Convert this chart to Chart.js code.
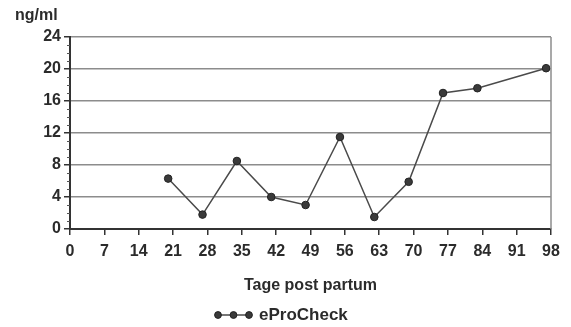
<!DOCTYPE html>
<html>
<head>
<meta charset="utf-8">
<script src="https://cdn.jsdelivr.net/npm/chart.js@4/dist/chart.umd.min.js"></script>
<style>
  html, body { margin: 0; padding: 0; background: #fff; }
  #wrap { width: 571px; height: 327px; position: relative; }
</style>
</head>
<body>
<div id="wrap"><canvas id="c" width="571" height="327"></canvas></div>
<script>
// Days after birth and measured concentration
const days = [20, 27, 34, 41, 48, 55, 62, 69, 76, 83, 97];
const values = [6.3, 1.8, 8.5, 4.0, 3.0, 11.5, 1.5, 5.9, 17.0, 17.6, 20.1];
const xTicks = [0, 7, 14, 21, 28, 35, 42, 49, 56, 63, 70, 77, 84, 91, 98];
const yTicks = [0, 4, 8, 12, 16, 20, 24];
const seriesName = 'eProCheck';
const unitLabel = 'ng/ml';
const xTitle = 'Tage post partum';

const FONT = '"Liberation Sans", Arial, sans-serif';
const INK = '#2b2b2b';

// Extra decorations: unit label, minor ticks, right frame edge, legend
const decor = {
  id: 'decor',
  afterDraw(chart) {
    const ctx = chart.ctx;
    const area = chart.chartArea;
    const y = chart.scales.y;
    ctx.save();
    // unit label above the y axis
    ctx.fillStyle = INK;
    ctx.font = 'bold 16px ' + FONT;
    ctx.textAlign = 'left';
    ctx.textBaseline = 'alphabetic';
    ctx.fillText(unitLabel, 15, 20);
    // minor ticks on the y axis
    ctx.strokeStyle = '#555';
    ctx.lineWidth = 1;
    for (let v = y.min; v <= y.max; v += 1) {
      if (v % 4 === 0) continue;
      const py = Math.round(y.getPixelForValue(v)) + 0.5;
      ctx.beginPath();
      ctx.moveTo(area.left - 3, py);
      ctx.lineTo(area.left, py);
      ctx.stroke();
    }
    // right frame edge
    ctx.strokeStyle = '#8c8c8c';
    ctx.lineWidth = 1.5;
    ctx.beginPath();
    ctx.moveTo(area.right, area.top);
    ctx.lineTo(area.right, area.bottom);
    ctx.stroke();
    // legend: line with three markers, then the series name
    const ds = chart.data.datasets[0];
    const ly = 315;
    ctx.strokeStyle = ds.borderColor;
    ctx.lineWidth = 1.5;
    ctx.beginPath();
    ctx.moveTo(215, ly);
    ctx.lineTo(252, ly);
    ctx.stroke();
    ctx.fillStyle = ds.pointBackgroundColor;
    ctx.strokeStyle = ds.pointBorderColor;
    ctx.lineWidth = 1;
    [218, 233.5, 249].forEach(px => {
      Chart.helpers.drawPoint(ctx, {
        pointStyle: 'circle', radius: 3.4, rotation: 0, borderWidth: 1
      }, px, ly);
    });
    ctx.fillStyle = INK;
    ctx.font = 'bold 17px ' + FONT;
    ctx.textBaseline = 'middle';
    ctx.fillText(ds.label, 259, ly);
    ctx.restore();
  }
};

new Chart(document.getElementById('c'), {
  type: 'line',
  data: {
    datasets: [{
      label: seriesName,
      data: days.map((d, i) => ({ x: d, y: values[i] })),
      borderColor: '#4a4a4a',
      borderWidth: 1.5,
      pointRadius: 3.8,
      pointHoverRadius: 3.8,
      pointBackgroundColor: '#3a3a3a',
      pointBorderColor: '#222',
      pointBorderWidth: 1,
      tension: 0
    }]
  },
  options: {
    responsive: false,
    animation: false,
    layout: { padding: { left: 0, top: 37, right: 20, bottom: 0 } },
    plugins: { legend: { display: false }, tooltip: { enabled: false } },
    scales: {
      x: {
        type: 'linear',
        min: 0, max: 98,
        afterBuildTicks: s => { s.ticks = xTicks.map(v => ({ value: v })); },
        afterFit: s => { s.height = 98; },
        grid: {
          drawOnChartArea: false, drawTicks: true, tickLength: 6,
          color: '#333', tickColor: '#333', lineWidth: 1.5
        },
        border: { display: true, color: '#333', width: 2 },
        ticks: {
          color: INK, padding: 7, maxRotation: 0, autoSkip: false,
          font: { family: FONT, size: 16, weight: 'bold' }
        },
        title: {
          display: true, text: xTitle, color: INK,
          font: { family: FONT, size: 16, weight: 'bold' },
          padding: { top: 0, bottom: 32 }
        }
      },
      y: {
        min: 0, max: 24,
        afterBuildTicks: s => { s.ticks = yTicks.map(v => ({ value: v })); },
        afterFit: s => { s.width = 70; },
        grid: {
          drawTicks: true, tickLength: 6,
          color: '#8c8c8c', tickColor: '#333', lineWidth: 1.5
        },
        border: { display: true, color: '#333', width: 2 },
        ticks: {
          color: INK, padding: 3,
          font: { family: FONT, size: 16, weight: 'bold' }
        }
      }
    }
  },
  plugins: [decor]
});
</script>
</body>
</html>
